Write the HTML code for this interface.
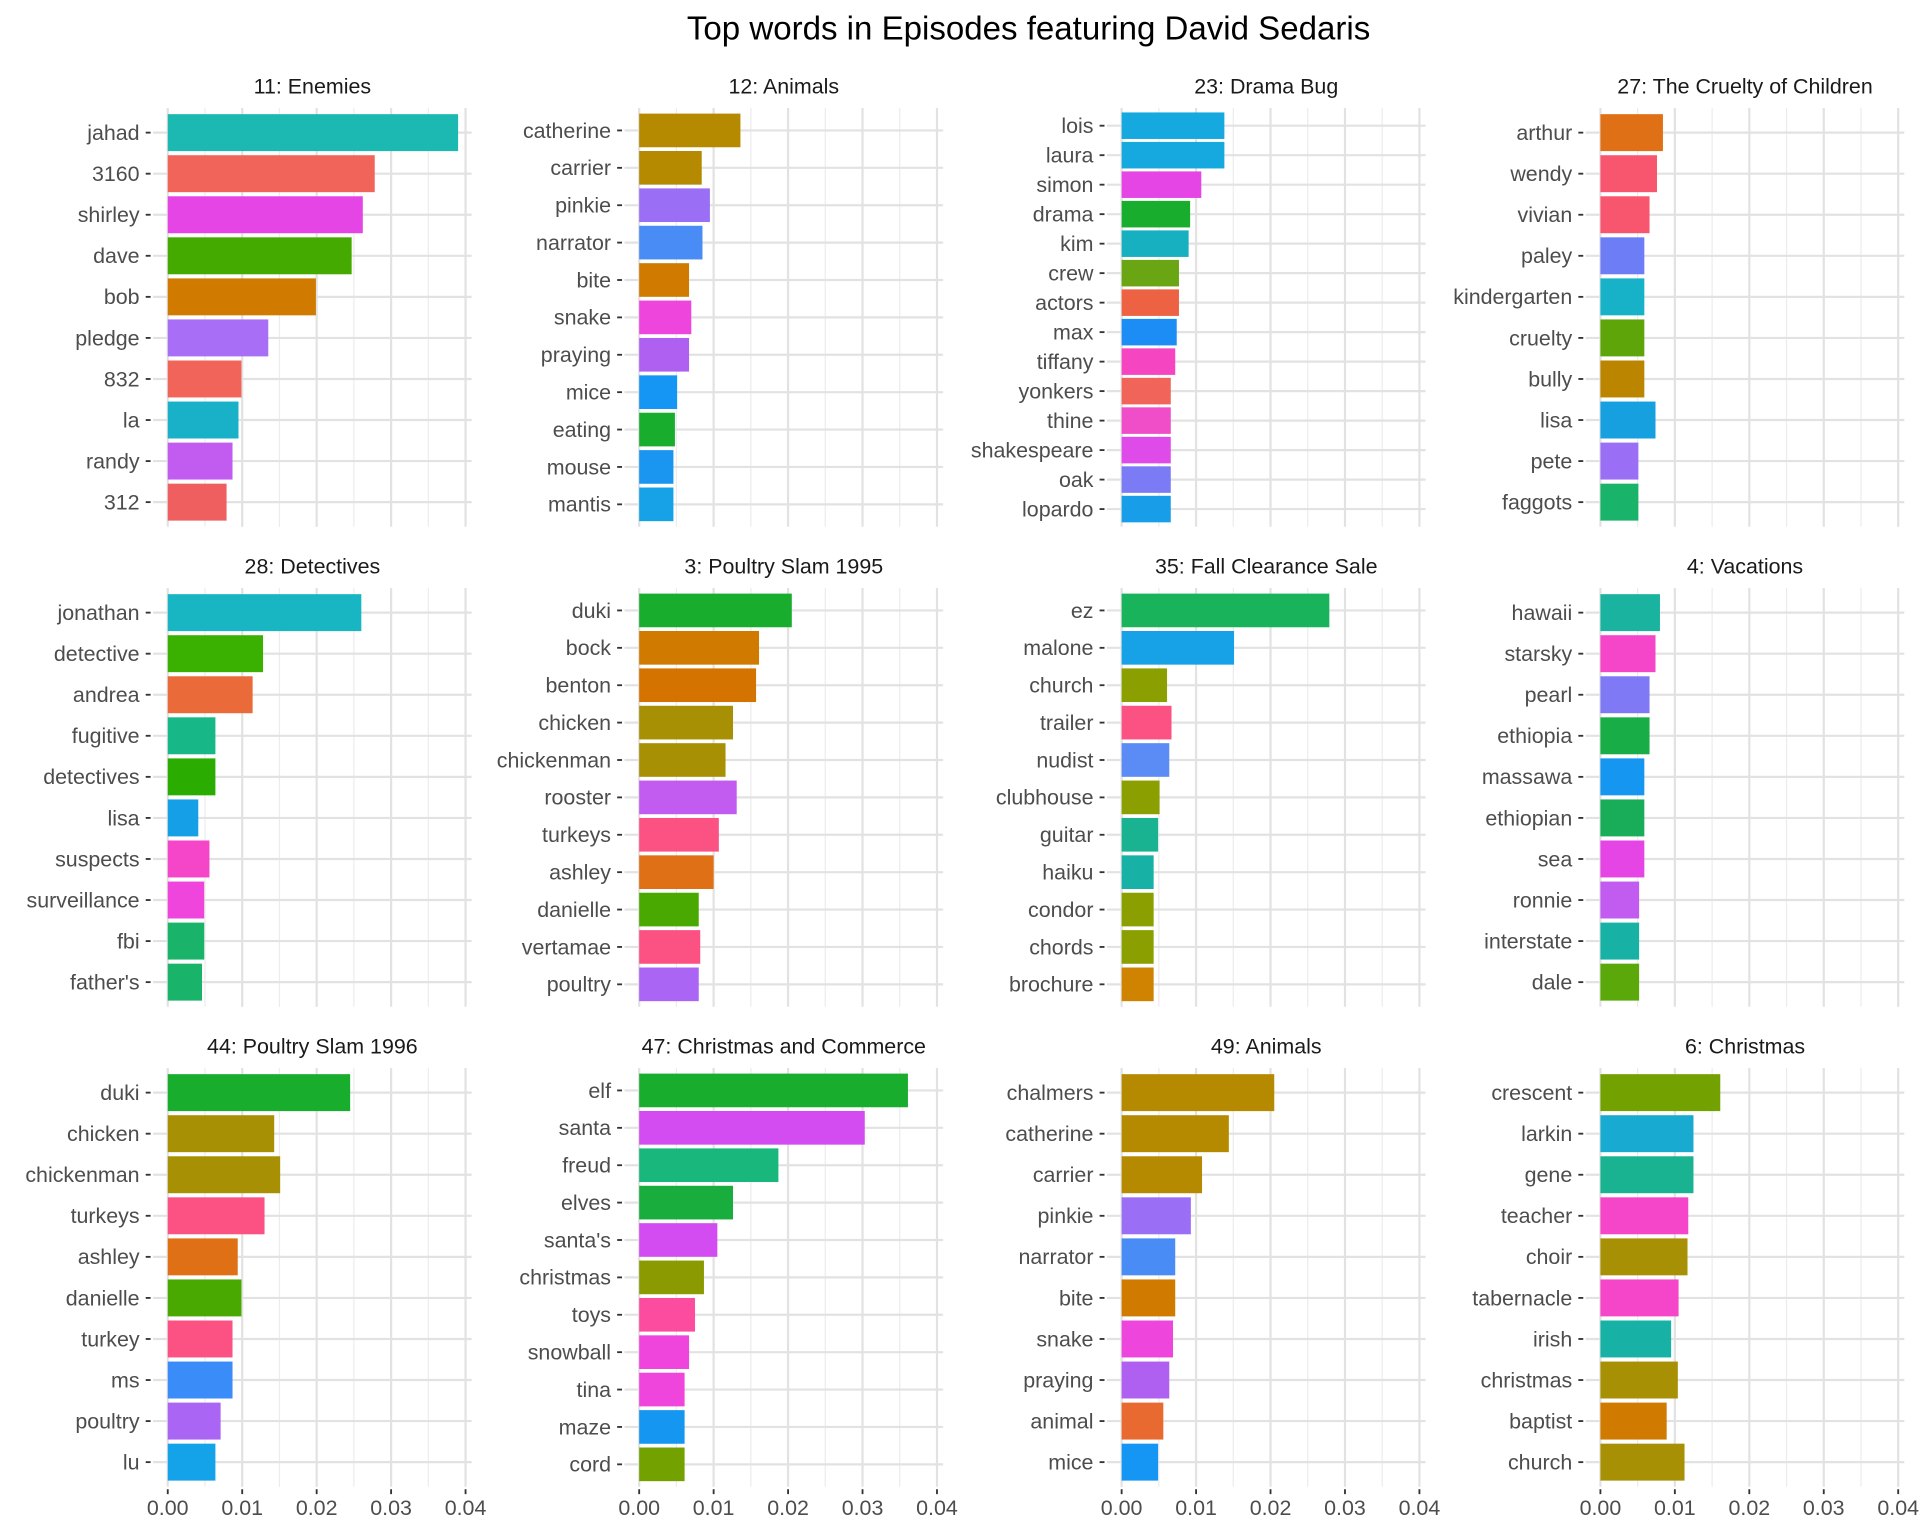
<!DOCTYPE html>
<html><head><meta charset="utf-8"><style>
html,body{margin:0;padding:0;background:#fff;}
svg{display:block;font-family:"Liberation Sans",Arial,sans-serif;}
</style></head><body>
<svg id="chart" width="1920" height="1536" viewBox="0 0 1568 1254" xmlns="http://www.w3.org/2000/svg">
<rect width="1568" height="1254" fill="#fff"/>
<text x="840" y="32" text-anchor="middle" font-size="27" fill="#000">Top words in Episodes featuring David Sedaris</text>
</svg>
<script>
const titles = ["11: Enemies","12: Animals","23: Drama Bug","27: The Cruelty of Children","28: Detectives","3: Poultry Slam 1995","35: Fall Clearance Sale","4: Vacations","44: Poultry Slam 1996","47: Christmas and Commerce","49: Animals","6: Christmas"];
const words = [
["jahad","3160","shirley","dave","bob","pledge","832","la","randy","312"],
["catherine","carrier","pinkie","narrator","bite","snake","praying","mice","eating","mouse","mantis"],
["lois","laura","simon","drama","kim","crew","actors","max","tiffany","yonkers","thine","shakespeare","oak","lopardo"],
["arthur","wendy","vivian","paley","kindergarten","cruelty","bully","lisa","pete","faggots"],
["jonathan","detective","andrea","fugitive","detectives","lisa","suspects","surveillance","fbi","father's"],
["duki","bock","benton","chicken","chickenman","rooster","turkeys","ashley","danielle","vertamae","poultry"],
["ez","malone","church","trailer","nudist","clubhouse","guitar","haiku","condor","chords","brochure"],
["hawaii","starsky","pearl","ethiopia","massawa","ethiopian","sea","ronnie","interstate","dale"],
["duki","chicken","chickenman","turkeys","ashley","danielle","turkey","ms","poultry","lu"],
["elf","santa","freud","elves","santa's","christmas","toys","snowball","tina","maze","cord"],
["chalmers","catherine","carrier","pinkie","narrator","bite","snake","praying","animal","mice"],
["crescent","larkin","gene","teacher","choir","tabernacle","irish","christmas","baptist","church"]];
const values = [
[0.039,0.0278,0.0262,0.0247,0.0199,0.0135,0.0099,0.0095,0.0087,0.0079],
[0.0136,0.0084,0.0095,0.0085,0.0067,0.007,0.0067,0.0051,0.0048,0.0046,0.0046],
[0.0138,0.0138,0.0107,0.0092,0.009,0.0077,0.0077,0.0074,0.0072,0.0066,0.0066,0.0066,0.0066,0.0066],
[0.0084,0.0076,0.0066,0.0059,0.0059,0.0059,0.0059,0.0074,0.0051,0.0051],
[0.026,0.0128,0.0114,0.0064,0.0064,0.0041,0.0056,0.0049,0.0049,0.0046],
[0.0205,0.0161,0.0157,0.0126,0.0116,0.0131,0.0107,0.01,0.008,0.0082,0.008],
[0.0279,0.0151,0.0061,0.0067,0.0064,0.0051,0.0049,0.0043,0.0043,0.0043,0.0043],
[0.008,0.0074,0.0066,0.0066,0.0059,0.0059,0.0059,0.0052,0.0052,0.0052],
[0.0245,0.0143,0.0151,0.013,0.0094,0.0099,0.0087,0.0087,0.0071,0.0064],
[0.0361,0.0303,0.0187,0.0126,0.0105,0.0087,0.0075,0.0067,0.0061,0.0061,0.0061],
[0.0205,0.0144,0.0108,0.0093,0.0072,0.0072,0.0069,0.0064,0.0056,0.0049],
[0.0161,0.0125,0.0125,0.0118,0.0117,0.0105,0.0095,0.0104,0.0089,0.0113]];
const colors = [
["#1cb8b2","#f0645a","#e645e6","#44aa00","#d07b00","#a86ef5","#f0645a","#18b1c8","#c25cf0","#ef5f5f"],
["#b58900","#b58900","#9b6ff5","#4a8cf5","#d07b00","#ee45dd","#b060f0","#1596f5","#19ad2e","#1a96f0","#17a2e8"],
["#15a9e0","#15a9e0","#e645e6","#19ad2e","#17b0c0","#6aa514","#ee6244","#1c8df5","#f545c0","#f0645a","#f04dc8","#df4be8","#7b7cf5","#189ee8"],
["#e07016","#f8566f","#f8566f","#6c7df5","#17b2c8","#5ea50a","#bb8500","#17a0e0","#9b6ff5","#19b36a"],
["#18b6c2","#3ab000","#ea6a3a","#17b787","#2aad00","#159fe6","#f545c8","#f045dd","#19b36a","#19b36a"],
["#19ad2e","#d07b00","#d57300","#a89005","#a89005","#c25cf0","#fb5283","#e07016","#4aa900","#fb5283","#aa65f5"],
["#19b35c","#17a2e8","#8b9f00","#fb5283","#5b8bf5","#8b9f00","#1ab392","#17b2a5","#8b9f00","#8b9f00","#d08300"],
["#1ab3a0","#f545c8","#8079f5","#19ad48","#1596f0","#19ad5a","#e645e6","#c25cf0","#17b2a5","#5aa80a"],
["#19ad2e","#a89005","#a89005","#fb5283","#e07016","#4aa900","#fb5283","#3a8cf9","#aa65f5","#14a3e8"],
["#19ad2e","#d24cf2","#19b77c","#19ad3e","#d24cf2","#8b9a00","#fb4c9f","#f045dd","#f045dd","#1596f0","#72a100"],
["#b58900","#b58900","#b58900","#9b6ff5","#4a8cf5","#d07b00","#ee45dd","#b060f0","#e86a30","#1596f5"],
["#72a100","#18aad0","#1ab392","#f545c8","#a89005","#f545c8","#17b2a5","#a89005","#d07b00","#a89005"]];
const xTicks = [0,0.01,0.02,0.03,0.04];
const xTickLabels = ["0.00","0.01","0.02","0.03","0.04"];

const NS = "http://www.w3.org/2000/svg";
const svg = document.getElementById('chart');
const colZero = [137,522,916,1307];
const unit = 60.8/0.01;
const rowTop = [88,480,872];
const panelH = 342;
function mk(tag, attrs, parent){const e=document.createElementNS(NS,tag);for(const k in attrs)e.setAttribute(k,attrs[k]);(parent||svg).appendChild(e);return e;}

for(let p=0;p<titles.length;p++){
  const c=p%4, r=Math.floor(p/4);
  const x0=colZero[c];
  const xs=v=>x0+v*unit;
  const left=x0-12, right=xs(0.04)+5;
  const top=rowTop[r], bottom=top+panelH;
  const n=words[p].length;
  const band=panelH/(n+0.2);
  const ys=i=>top+(i+0.6)*band;
  const g=mk('g',{});
  
  
  const t=mk('text',{x:(left+right)/2,y:top-12,'text-anchor':'middle','font-size':17.5,fill:'#1a1a1a'},g);
  t.textContent=titles[p];
  
  
  for(let k=0;k<4;k++){const mx=xs(0.005+k*0.01);mk('line',{x1:mx,x2:mx,y1:top,y2:bottom,stroke:'#ececec','stroke-width':1},g);}
  xTicks.forEach(v=>mk('line',{x1:xs(v),x2:xs(v),y1:top,y2:bottom,stroke:'#e2e2e2','stroke-width':1.8},g));
  for(let i=0;i<n;i++)mk('line',{x1:left,x2:right,y1:ys(i),y2:ys(i),stroke:'#e2e2e2','stroke-width':1.8},g);
  for(let i=0;i<n;i++){
    const y=ys(i);
    const b=mk('rect',{x:xs(0),y:y-band*0.45,width:xs(values[p][i])-xs(0),height:band*0.9,fill:colors[p][i]},g);
    
    
    mk('line',{x1:left-6,x2:left-2,y1:y,y2:y,stroke:'#333','stroke-width':1.5},g);
    const lb=mk('text',{x:left-11,y:y+6,'text-anchor':'end','font-size':17.5,fill:'#4d4d4d'},g);
    lb.textContent=words[p][i];
    
    
  }
  if(r===2){
    xTicks.forEach((v,k)=>{
      mk('line',{x1:xs(v),x2:xs(v),y1:bottom+2,y2:bottom+6,stroke:'#333','stroke-width':1.5},g);
      const xl=mk('text',{x:xs(v),y:bottom+23,'text-anchor':'middle','font-size':17.5,fill:'#4d4d4d'},g);
      xl.textContent=xTickLabels[k];
      
      
    });
  }
}
</script>
</body></html>
